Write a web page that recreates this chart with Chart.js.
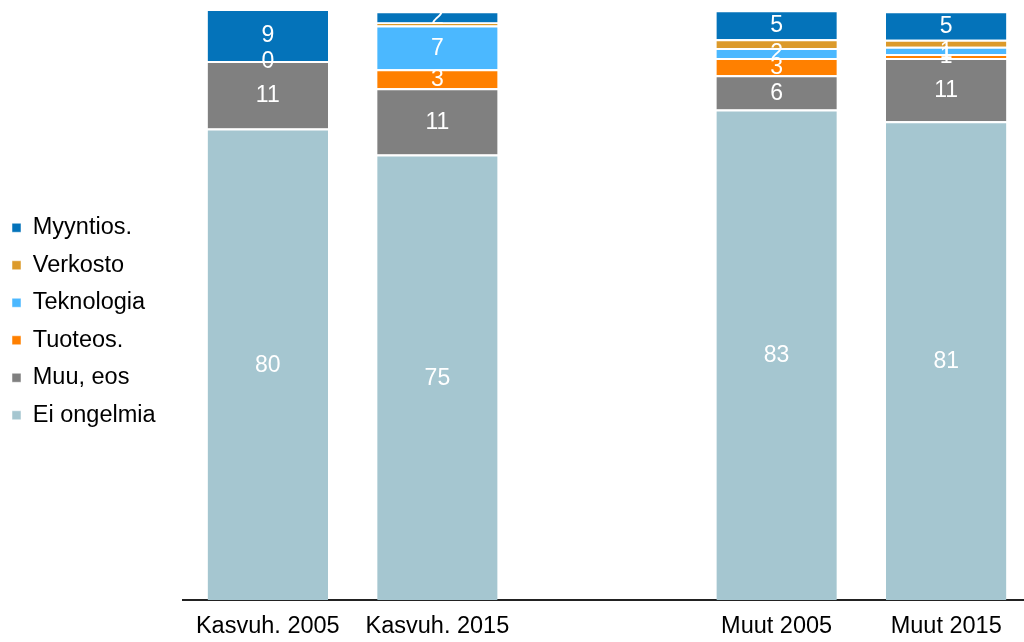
<!DOCTYPE html>
<html lang="fi">
<head>
  <meta charset="UTF-8">
  <title>Ongelmat</title>
  <script src="https://cdn.jsdelivr.net/npm/chart.js"></script>
  <style>
    html, body { margin: 0; padding: 0; background: #fff; overflow: hidden; }
    #wrap { width: 1031px; height: 642px; }
  </style>
</head>
<body>
  <div id="wrap"><canvas id="c"></canvas></div>

  <script>
    const categories = ['Kasvuh. 2005', 'Kasvuh. 2015', '', 'Muut 2005', 'Muut 2015'];
    // prosentit, luettu kuvasta
    const eiOngelmia = [79.8, 75.4, null, 83.0, 81.0];
    const muuEos     = [11.4, 11.2, null, 5.8, 10.7];
    const tuoteos    = [0, 3.2, null, 2.9, 0.7];
    const teknologia = [null, 7.4, null, 1.7, 1.2];
    const verkosto   = [null, 0.5, null, 1.5, 1.2];
    const myyntios   = [8.8, 1.9, null, 4.9, 4.8];

    const font = 'Liberation Sans, Arial, sans-serif';

    const series = [
      { label: 'Ei ongelmia', data: eiOngelmia, color: '#a5c6d0', showLabel: true },
      { label: 'Muu, eos', data: muuEos, color: '#808080', showLabel: true },
      { label: 'Tuoteos.', data: tuoteos, color: '#ff8000', showLabel: true },
      { label: 'Teknologia', data: teknologia, color: '#4bb8ff', showLabel: true },
      { label: 'Verkosto', data: verkosto, color: '#dc9a2a', showLabel: false },
      { label: 'Myyntios.', data: myyntios, color: '#0473ba', showLabel: true }
    ];

    // arvot palkkien sisään
    const valueLabels = {
      id: 'valueLabels',
      afterDatasetsDraw(chart) {
        const ctx = chart.ctx;
        ctx.save();
        ctx.fillStyle = '#fff';
        ctx.font = '23px ' + font;
        ctx.textAlign = 'center';
        ctx.textBaseline = 'middle';
        chart.data.datasets.forEach((ds, i) => {
          if (!series[i].showLabel) return;
          chart.getDatasetMeta(i).data.forEach((bar, j) => {
            const v = ds.data[j];
            if (v === null || v === undefined) return;
            ctx.fillText(Math.round(v), bar.x, (bar.y + bar.base) / 2 + 1);
          });
        });
        ctx.restore();
      }
    };

    // legendalle kiinteä leveys, piirto hieman siirrettynä
    const legendWidth = {
      id: 'legendWidth',
      beforeInit(chart) {
        const lg = chart.legend;
        const fit = lg.fit;
        lg.fit = function () {
          fit.call(this);
          this.width = 183;
        };
        const draw = lg.draw;
        lg.draw = function () {
          this.ctx.save();
          this.ctx.translate(-2, -4);
          draw.apply(this, arguments);
          this.ctx.restore();
        };
      }
    };

    new Chart(document.getElementById('c'), {
      type: 'bar',
      data: {
        labels: categories,
        datasets: series.map(s => ({
          label: s.label,
          data: s.data,
          backgroundColor: s.color,
          borderColor: '#ffffff',
          borderWidth: { top: 2, bottom: 0, left: 0, right: 0 },
          borderSkipped: false,
          barPercentage: 0.71,
          categoryPercentage: 1
        }))
      },
      options: {
        responsive: true,
        maintainAspectRatio: false,
        animation: false,
        layout: { padding: { top: 9, right: 0, bottom: 0 } },
        plugins: {
          legend: {
            position: 'left',
            reverse: true,
            labels: {
              boxWidth: 9,
              boxHeight: 9,
              padding: 14,
              color: '#000',
              font: { family: font, size: 23.5, lineHeight: 1.1 }
            }
          },
          tooltip: { enabled: false }
        },
        scales: {
          x: {
            stacked: true,
            grid: { display: false, drawTicks: false },
            border: { color: '#222', width: 2 },
            ticks: { color: '#000', font: { family: font, size: 23.5, lineHeight: 1.0 }, padding: 15, maxRotation: 0, autoSkip: false },
            afterFit(scale) { scale.height = 42; }
          },
          y: {
            stacked: true,
            min: 0,
            max: 100,
            display: false
          }
        }
      },
      plugins: [valueLabels, legendWidth]
    });
  </script>
</body>
</html>
